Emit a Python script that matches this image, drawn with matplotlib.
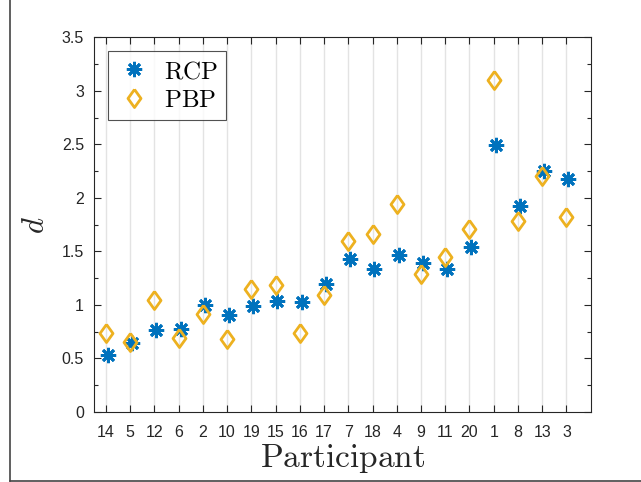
import numpy as np
import matplotlib
matplotlib.use("Agg")
import matplotlib.pyplot as plt
from matplotlib.lines import Line2D
from matplotlib.ticker import MultipleLocator

plt.rcParams["mathtext.fontset"] = "cm"
plt.rcParams["font.family"] = ["Liberation Sans", "DejaVu Sans"]

# Participants ordered by position on the x axis
participants = ["14", "5", "12", "6", "2", "10", "19", "15", "16", "17",
                "7", "18", "4", "9", "11", "20", "1", "8", "13", "3"]
rcp = [0.53, 0.64, 0.77, 0.78, 1.00, 0.91, 0.99, 1.04, 1.03, 1.20,
       1.43, 1.34, 1.47, 1.39, 1.34, 1.54, 2.49, 1.92, 2.25, 2.18]
pbp = [0.74, 0.65, 1.05, 0.69, 0.92, 0.68, 1.15, 1.19, 0.74, 1.09,
       1.60, 1.66, 1.94, 1.29, 1.45, 1.71, 3.10, 1.78, 2.20, 1.82]
yticks = [0, 0.5, 1, 1.5, 2, 2.5, 3, 3.5]
ytick_labels = ["0", "0.5", "1", "1.5", "2", "2.5", "3", "3.5"]

blue = "#0072BD"
orange = "#EDB120"
axcol = "#262626"

x = np.arange(1, len(participants) + 1)

fig = plt.figure(figsize=(6.41, 4.82), dpi=100)
ax = fig.add_axes([0.1462, 0.1452, 0.9215 - 0.1462, 0.9226 - 0.1452])

# diamond a bit taller than wide
diamond = [(0, 1), (0.72, 0), (0, -1), (-0.72, 0), (0, 1)]

ax.plot(x + 0.08, rcp, linestyle="none", marker=(8, 2, 0), markersize=11,
        markeredgewidth=2.0, color=blue, label=r"$\mathrm{RCP}$", zorder=3)
ax.plot(x, pbp, linestyle="none", marker=diamond, markersize=13,
        markeredgewidth=2.0, markerfacecolor="none", markeredgecolor=orange,
        label=r"$\mathrm{PBP}$", zorder=3)

ax.set_xlim(0.5, 21)
ax.set_ylim(0, 3.5)
ax.set_xticks(x)
ax.set_xticklabels(participants, fontsize=11.5, color=axcol)
ax.set_yticks(yticks)
ax.set_yticklabels(ytick_labels, fontsize=11.5, color=axcol)
ax.yaxis.set_minor_locator(MultipleLocator(0.25))

ax.tick_params(which="both", direction="in", top=True, right=True,
               color=axcol, width=0.8)
ax.tick_params(axis="x", which="major", length=5, pad=9)
ax.tick_params(axis="y", which="major", length=5, pad=7)
ax.tick_params(which="minor", length=3)

ax.grid(axis="x", color="#e3e3e3", linewidth=1.0)
ax.set_axisbelow(True)
for s in ax.spines.values():
    s.set_color(axcol)
    s.set_linewidth(0.8)

ax.set_xlabel(r"$\mathrm{Participant}$", fontsize=24, color=axcol, labelpad=2)
ax.set_ylabel(r"$d$", fontsize=22, color=axcol, labelpad=8)

leg = ax.legend(loc="upper left", bbox_to_anchor=(0.029, 0.963), fontsize=18,
                frameon=True, fancybox=False, edgecolor=axcol,
                borderaxespad=0, handletextpad=0.5, borderpad=0.32,
                labelspacing=0.2, handlelength=1.4)
leg.get_frame().set_linewidth(0.8)

# outer frame lines on the left and bottom
fig.add_artist(Line2D([9.5 / 641, 9.5 / 641], [1.5 / 482, 1.0],
                      transform=fig.transFigure, color="#444444", linewidth=1.2))
fig.add_artist(Line2D([9.5 / 641, 1.0], [1.5 / 482, 1.5 / 482],
                      transform=fig.transFigure, color="#444444", linewidth=1.2))

fig.savefig("out.png", dpi=100)
